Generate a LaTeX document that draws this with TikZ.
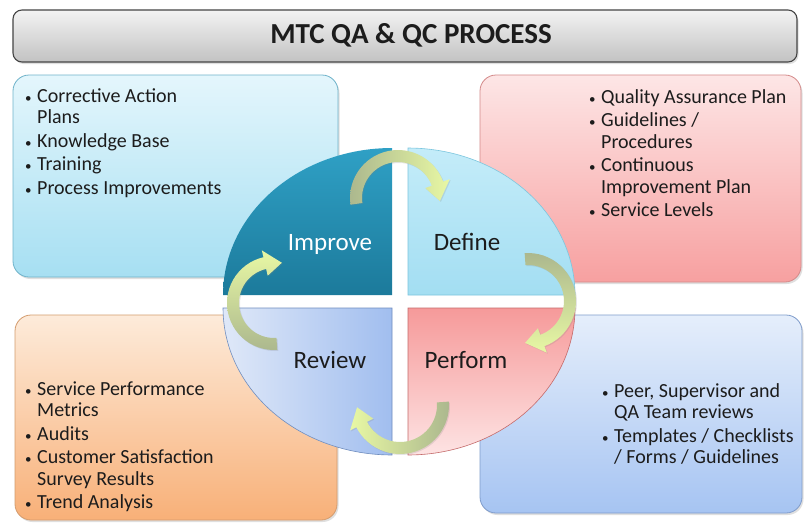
\documentclass[tikz,border=0pt]{standalone}
\usepackage{fontspec}
\setmainfont{Carlito}
\usetikzlibrary{shadows}
\definecolor{titletop}{HTML}{F3F3F3}
\definecolor{titlebot}{HTML}{C2C2C2}
\definecolor{titlebd}{HTML}{454545}
\definecolor{tltop}{HTML}{E4F6FC}
\definecolor{tlbot}{HTML}{A6DFF2}
\definecolor{tlbd}{HTML}{6FB3CA}
\definecolor{trtop}{HTML}{FDE6E6}
\definecolor{trbot}{HTML}{F7A0A0}
\definecolor{trbd}{HTML}{D48A8A}
\definecolor{bltop}{HTML}{FDEBDA}
\definecolor{blbot}{HTML}{F8B078}
\definecolor{blbd}{HTML}{D49C6E}
\definecolor{brtop}{HTML}{E5EEFB}
\definecolor{brbot}{HTML}{A6C4F2}
\definecolor{brbd}{HTML}{7F9CCB}
\definecolor{imptop}{HTML}{2FA0C5}
\definecolor{impbot}{HTML}{1C7A9B}
\definecolor{deftop}{HTML}{C4ECF9}
\definecolor{defbot}{HTML}{A3DEF2}
\definecolor{defbd}{HTML}{7CC6DE}
\definecolor{revl}{HTML}{DFE8F8}
\definecolor{revr}{HTML}{A1BEEF}
\definecolor{revbd}{HTML}{6F8DBE}
\definecolor{pertop}{HTML}{F69A9A}
\definecolor{perbot}{HTML}{FDE3E3}
\definecolor{perbd}{HTML}{C46A6A}
\definecolor{arrolive}{HTML}{ACB88E}
\definecolor{arryel}{HTML}{E8F8A4}
\definecolor{txtc}{HTML}{1C1C1C}
\newcommand\qbul{{\fontsize{13}{13}\selectfont\textbullet}}
% curved block arrow: #1 cx, #2 cy, #3 r, #4 tail angle, #5 head base angle, #6 tip angle, #7 options
\newcommand\qcarrow[7]{%
  \path[arrowsty,#7]
    plot[domain=#4:#5,samples=30] ({#1+(#3+6)*cos(\x)},{#2+(#3+6)*sin(\x)})
    -- ({#1+(#3+13)*cos(#5)},{#2+(#3+13)*sin(#5)})
    -- ({#1+#3*cos(#6)},{#2+#3*sin(#6)})
    -- ({#1+(#3-13)*cos(#5)},{#2+(#3-13)*sin(#5)})
    -- plot[domain=#5:#4,samples=30] ({#1+(#3-6)*cos(\x)},{#2+(#3-6)*sin(\x)})
    -- cycle;}
\begin{document}
\begin{tikzpicture}[x=1pt,y=-1pt,
  box/.style={rounded corners=16pt, inner sep=0pt, line width=0.8pt,
    drop shadow={opacity=0.25, shadow xshift=1.5pt, shadow yshift=-2pt}},
  blist/.style={anchor=base west, inner sep=0pt, text=txtc,
    font=\fontsize{20}{21.5}\selectfont},
  qlabel/.style={anchor=base, inner sep=0pt, font=\fontsize{25}{28}\selectfont},
  quad/.style={line width=0.6pt},
  arrowsty/.style={drop shadow={opacity=0.2, shadow xshift=1pt, shadow yshift=-1pt}}]
\useasboundingbox (0,0) rectangle (808,523);
\fill[white] (0,0) rectangle (808,523);

% title bar
\node[box, rounded corners=9pt, draw=titlebd, line width=1.1pt,
  top color=titletop, bottom color=titlebot,
  minimum width=784pt, minimum height=52pt] (title) at (405,36) {};
\node[anchor=base, inner sep=0pt, text=txtc,
  font=\fontsize{29}{32}\selectfont\bfseries] (titletext) at (411,43) {MTC QA \& QC PROCESS};

% corner boxes
\node[box, draw=tlbd, top color=tltop, bottom color=tlbot,
  minimum width=325pt, minimum height=202pt] (tl) at (175.5,176) {};
\node[box, draw=trbd, top color=trtop, bottom color=trbot,
  minimum width=321pt, minimum height=207pt] (tr) at (640.5,178.5) {};
\node[box, draw=blbd, top color=bltop, bottom color=blbot,
  minimum width=322pt, minimum height=205pt] (bl) at (176,417.5) {};
\node[box, draw=brbd, top color=brtop, bottom color=brbot,
  minimum width=322pt, minimum height=198pt] (br) at (641,414) {};

% box texts
\node[blist] (tltext) at (25,102) {\begin{tabular}[t]{@{}p{12pt}@{}l@{}}
\qbul & Corrective Action\\
 & Plans\\[2pt]
\qbul & Knowledge Base\\[2pt]
\qbul & Training\\[2pt]
\qbul & Process Improvements
\end{tabular}};
\node[blist] (trtext) at (589,103) {\begin{tabular}[t]{@{}p{12pt}@{}l@{}}
\qbul & Quality Assurance Plan\\[2pt]
\qbul & Guidelines /\\
 & Procedures\\[2pt]
\qbul & Continuous\\
 & Improvement Plan\\[2pt]
\qbul & Service Levels
\end{tabular}};
\node[blist] (bltext) at (25,395) {\begin{tabular}[t]{@{}p{12pt}@{}l@{}}
\qbul & Service Performance\\
 & Metrics\\[2pt]
\qbul & Audits\\[2pt]
\qbul & Customer Satisfaction\\
 & Survey Results\\[2pt]
\qbul & Trend Analysis
\end{tabular}};
\node[blist] (brtext) at (602,397) {\begin{tabular}[t]{@{}p{12pt}@{}l@{}}
\qbul & Peer, Supervisor and\\
 & QA Team reviews\\[2pt]
\qbul & Templates / Checklists\\
 & / Forms / Guidelines
\end{tabular}};

% quadrants
\path[quad, top color=imptop, bottom color=impbot]
  (392,295) -- plot[domain=180:270,samples=50] ({392+169*cos(\x)},{295+147*sin(\x)}) -- cycle;
\path[quad, draw=defbd, top color=deftop, bottom color=defbot]
  (408,295) -- plot[domain=270:360,samples=50] ({408+167*cos(\x)},{295+147*sin(\x)}) -- cycle;
\path[quad, draw=perbd, top color=pertop, bottom color=perbot]
  (408,308) -- plot[domain=0:90,samples=50] ({408+167*cos(\x)},{308+147*sin(\x)}) -- cycle;
\path[quad, draw=revbd, left color=revl, right color=revr]
  (392,308) -- plot[domain=90:180,samples=50] ({392+169*cos(\x)},{308+147*sin(\x)}) -- cycle;

% quadrant labels
\node[qlabel, text=white] (improve) at (330,250) {Improve};
\node[qlabel, text=txtc] (define) at (467,250) {Define};
\node[qlabel, text=txtc] (review) at (330,368) {Review};
\node[qlabel, text=txtc] (perform) at (466,368) {Perform};

% cycle arrows
\qcarrow{398}{198}{42}{172}{340}{364}{left color=arrolive, right color=arryel}
\qcarrow{528}{301}{42}{266}{430}{454}{top color=arrolive, bottom color=arryel}
\qcarrow{400}{405}{43}{-4}{153}{177}{right color=arrolive, left color=arryel}
\qcarrow{274}{303}{41}{86}{257}{281}{bottom color=arrolive, top color=arryel}
\end{tikzpicture}
\end{document}
